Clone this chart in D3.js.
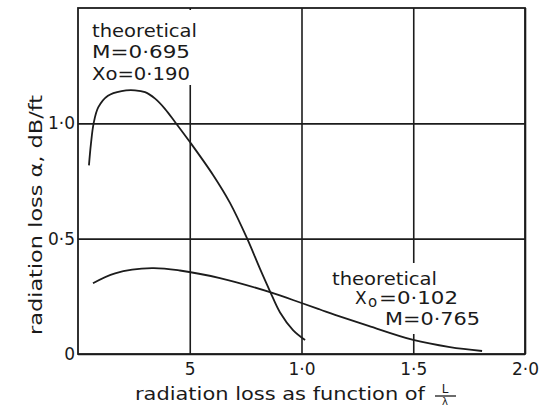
<!DOCTYPE html>
<html><head><meta charset="utf-8">
<script src="https://cdn.jsdelivr.net/npm/d3@7"></script>
<style>
html,body{margin:0;padding:0;background:#fff;}
text{font-family:"DejaVu Sans",sans-serif;fill:#1a1a1a;}
</style></head>
<body><svg id="c" width="545" height="407"></svg>
<script>
// Data
const curve1X = [0.049, 0.058, 0.070, 0.091, 0.134, 0.195, 0.255, 0.300, 0.345, 0.389, 0.434, 0.500, 0.605, 0.680, 0.756, 0.814, 0.859, 0.904, 0.962, 1.016];
const curve1Y = [0.818, 0.912, 1.000, 1.070, 1.120, 1.140, 1.143, 1.135, 1.107, 1.063, 1.006, 0.920, 0.775, 0.655, 0.502, 0.370, 0.272, 0.180, 0.104, 0.061];
const curve2X = [0.067, 0.166, 0.331, 0.456, 0.635, 0.859, 1.000, 1.083, 1.150, 1.300, 1.500, 1.664, 1.808];
const curve2Y = [0.307, 0.350, 0.372, 0.362, 0.329, 0.268, 0.221, 0.193, 0.170, 0.122, 0.061, 0.030, 0.013];
const xTicks = [0.5, 1.0, 1.5, 2.0];
const xTickLabels = ["5", "1·0", "1·5", "2·0"];
const yTicks = [0, 0.5, 1.0];
const yTickLabels = ["0", "0·5", "1·0"];
const label1 = ["theoretical", "M=0·695", "Xo=0·190"];
const label2 = ["theoretical", "X", "o", "=0·102", "M=0·765"];
const xTitle = "radiation loss as function of";
const yTitle = "radiation loss α, dB/ft";

const svg = d3.select("#c");
const L = 78, R = 525, T = 8, B = 354;
const x = d3.scaleLinear().domain([0, 2]).range([L, R]);
const y = d3.scaleLinear().domain([0, 1.5]).range([B, T]);
const ink = "#1c1c1c";

// x axis with gridlines
const gx = svg.append("g").attr("transform", `translate(0,${B})`)
  .call(d3.axisBottom(x).tickValues(xTicks).tickFormat((d, i) => xTickLabels[i])
    .tickSize(-(B - T)).tickPadding(9));
gx.select(".domain").remove();
gx.selectAll("line").attr("stroke", ink).attr("stroke-width", 1.6);
gx.selectAll("text").attr("font-size", 17).attr("fill", ink)
  .attr("font-family", "DejaVu Sans, sans-serif");

// y axis with gridlines
const gy = svg.append("g").attr("transform", `translate(${L},0)`)
  .call(d3.axisLeft(y).tickValues(yTicks).tickFormat((d, i) => yTickLabels[i])
    .tickSize(-(R - L)).tickPadding(3));
gy.select(".domain").remove();
gy.selectAll("line").attr("stroke", ink).attr("stroke-width", 1.6);
gy.selectAll("text").attr("font-size", 17).attr("fill", ink)
  .attr("font-family", "DejaVu Sans, sans-serif");

// gaps in gridlines behind annotations
svg.append("rect").attr("x", 88).attr("y", T + 2).attr("width", 112).attr("height", 85 - T - 2).attr("fill", "#fff");
svg.append("rect").attr("x", x(1.5) - 3).attr("y", 263).attr("width", 6).attr("height", 71).attr("fill", "#fff");

// frame
svg.append("rect").attr("x", L).attr("y", T).attr("width", R - L).attr("height", B - T)
  .attr("fill", "none").attr("stroke", ink).attr("stroke-width", 1.8);

// curves
const line = d3.line().x(d => x(d[0])).y(d => y(d[1])).curve(d3.curveCatmullRom.alpha(0.5));
svg.append("path").datum(curve1X.map((v, i) => [v, curve1Y[i]]))
  .attr("d", line).attr("fill", "none").attr("stroke", ink).attr("stroke-width", 1.8);
svg.append("path").datum(curve2X.map((v, i) => [v, curve2Y[i]]))
  .attr("d", line).attr("fill", "none").attr("stroke", ink).attr("stroke-width", 1.8);

// annotation 1
const a1 = [[92, 37, 105], [92, 58, 98], [92, 80, 98]];
label1.forEach((t, i) => {
  svg.append("text").attr("x", a1[i][0]).attr("y", a1[i][1]).attr("font-size", 17)
    .attr("textLength", a1[i][2]).attr("lengthAdjust", "spacingAndGlyphs").text(t);
});

// annotation 2
svg.append("text").attr("x", 332).attr("y", 285).attr("font-size", 17)
  .attr("textLength", 105).attr("lengthAdjust", "spacingAndGlyphs").text(label2[0]);
svg.append("text").attr("x", 355).attr("y", 304).attr("font-size", 17).text(label2[1]);
svg.append("text").attr("x", 368).attr("y", 307).attr("font-size", 15).text(label2[2]);
svg.append("text").attr("x", 379).attr("y", 304).attr("font-size", 17)
  .attr("textLength", 79).attr("lengthAdjust", "spacingAndGlyphs").text(label2[3]);
svg.append("text").attr("x", 385).attr("y", 325).attr("font-size", 17)
  .attr("textLength", 95).attr("lengthAdjust", "spacingAndGlyphs").text(label2[4]);

// axis titles
svg.append("text").attr("x", 135).attr("y", 400).attr("font-size", 17)
  .attr("textLength", 290).attr("lengthAdjust", "spacingAndGlyphs").text(xTitle);
svg.append("text").attr("x", 445).attr("y", 393).attr("font-size", 12).attr("text-anchor", "middle").text("L");
svg.append("line").attr("x1", 435).attr("x2", 456).attr("y1", 396).attr("y2", 396)
  .attr("stroke", ink).attr("stroke-width", 1.3);
svg.append("text").attr("x", 445).attr("y", 405).attr("font-size", 10).attr("text-anchor", "middle").text("λ");

svg.append("text").attr("transform", "translate(42,215) rotate(-90)")
  .attr("text-anchor", "middle").attr("font-size", 17)
  .attr("textLength", 240).attr("lengthAdjust", "spacingAndGlyphs").text(yTitle);
</script></body></html>
